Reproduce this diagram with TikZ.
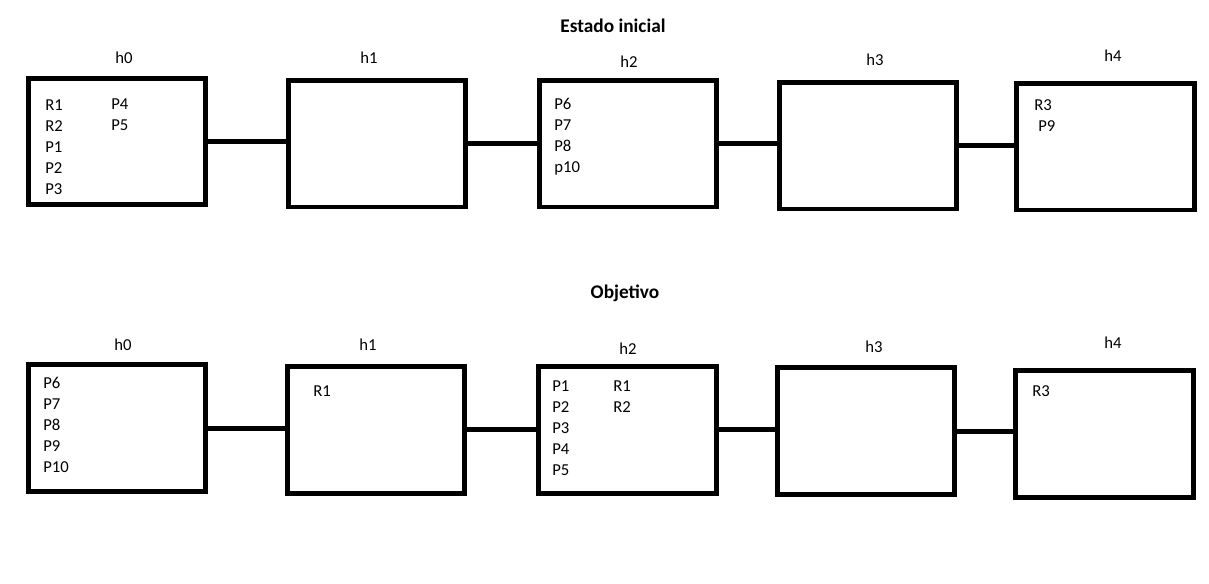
\documentclass[tikz,border=0pt]{standalone}
\usepackage{fontspec}
\setmainfont{Carlito}
\usetikzlibrary{positioning}

\begin{document}
\begin{tikzpicture}[x=0.02cm, y=-0.02cm]
\tikzset{caja/.style={draw, line width=0.1cm, minimum width=3.56cm, minimum height=2.54cm, inner sep=0pt}}
% base = linea de base de la ultima fila
\tikzset{lista/.style={anchor=base west, inner sep=0pt, align=left, font=\fontsize{9.5}{11.95}\selectfont}}
\tikzset{etiq/.style={inner sep=0pt, font=\fontsize{9.5}{11.95}\selectfont}}
\tikzset{titulo/.style={inner sep=0pt, font=\fontsize{11}{13}\selectfont\bfseries}}
\tikzset{enlace/.style={line width=0.1cm}}
\useasboundingbox (0,0) rectangle (1209,583);
% estado inicial
\node[titulo] (T1) at (613,26) {Estado inicial};
\node[caja] (A0) at (117,141.5) {};
\node[caja] (A1) at (377,143.5) {};
\node[caja] (A2) at (628,143.5) {};
\node[caja] (A3) at (868,145.5) {};
\node[caja] (A4) at (1105,146.5) {};
\node[etiq] (LA0) at (124,58) {h0};
\node[etiq] (LA1) at (369,58) {h1};
\node[etiq] (LA2) at (629,62) {h2};
\node[etiq] (LA3) at (875,60) {h3};
\node[etiq] (LA4) at (1113,56) {h4};
\node[lista] (XA0) at (45,194) {R1\\R2\\P1\\P2\\P3};
\node[lista] (YA0) at (111,130) {P4\\P5};
\node[lista] (XA2) at (554,172) {P6\\P7\\P8\\p10};
\node[lista] (XA4) at (1034,131) {R3\\\hspace*{0.08cm}P9};
\draw[enlace] (A0.east) -- (A0.east -| A1.west);
\draw[enlace] (A1.east) -- (A1.east -| A2.west);
\draw[enlace] (A2.east) -- (A2.east -| A3.west);
\draw[enlace] (A3.east) -- (A3.east -| A4.west);
% objetivo
\node[titulo] (T2) at (625,293) {Objetivo};
\node[caja] (B0) at (117,428) {};
\node[caja] (B1) at (376,429.5) {};
\node[caja] (B2) at (627.5,429.5) {};
\node[caja] (B3) at (866,431) {};
\node[caja] (B4) at (1104,433.5) {};
\node[etiq] (LB0) at (123,345) {h0};
\node[etiq] (LB1) at (368,345) {h1};
\node[etiq] (LB2) at (628,349) {h2};
\node[etiq] (LB3) at (874,347) {h3};
\node[etiq] (LB4) at (1113,343) {h4};
\node[lista] (XB0) at (43,472) {P6\\P7\\P8\\P9\\P10};
\node[lista] (XB1) at (313,396) {R1};
\node[lista] (XB2) at (552,475) {P1\\P2\\P3\\P4\\P5};
\node[lista] (YB2) at (613,412) {R1\\R2};
\node[lista] (XB4) at (1032,396) {R3};
\draw[enlace] (B0.east) -- (B0.east -| B1.west);
\draw[enlace] (B1.east) -- (B1.east -| B2.west);
\draw[enlace] (B2.east) -- (B2.east -| B3.west);
\draw[enlace] (B3.east) -- (B3.east -| B4.west);
\end{tikzpicture}
\end{document}
